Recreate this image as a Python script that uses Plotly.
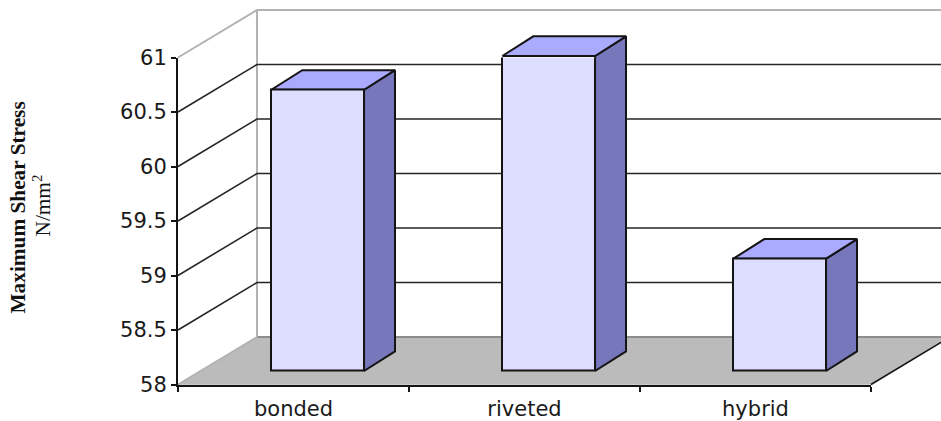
import plotly.graph_objects as go

# Maximum shear stress per joint type
categories = ["bonded", "riveted", "hybrid"]
stress_values = [60.58, 60.89, 59.03]
stress_ticks = [58, 58.5, 59, 59.5, 60, 60.5, 61]
stress_tick_labels = ["58", "58.5", "59", "59.5", "60", "60.5", "61"]

WIDTH, HEIGHT = 941, 421

# Pseudo-3D projection, in axis units: a category step in x and a stress unit in y
WALL_DX, WALL_DY = 0.342, 0.436
BAR_DX, BAR_DY = 0.134, 0.18
BAR_LEFT, BAR_WIDTH = -0.096, 0.4014
BAR_LIFT = 0.124

# Scene axes span the whole page and share the scale of the visible axes
PX_X0, PX_PER_CAT = 293.5, 231.0
PX_Y0, PX_PER_UNIT = 384.5, 109.0
scene_x = [(0 - PX_X0) / PX_PER_CAT, (WIDTH - PX_X0) / PX_PER_CAT]
scene_y = [58 + (PX_Y0 - HEIGHT) / PX_PER_UNIT, 58 + PX_Y0 / PX_PER_UNIT]

X_LEFT, X_RIGHT = -0.5, 2.5
Y_LOW, Y_HIGH = stress_ticks[0], stress_ticks[-1]
FAR_RIGHT = scene_x[1] + 0.1

INK = "#141414"
WALL_EDGE = "#b2b2b2"
FLOOR = "#bbbbbb"
FLOOR_EDGE = "#8c8c8c"
BAR_FRONT = "#ddddff"
BAR_TOP = "#aaaaff"
BAR_SIDE = "#7777bb"

fig = go.Figure()


def scene_path(xs, ys, color, width=1.5, fill=None):
    fig.add_trace(go.Scatter(
        x=xs, y=ys, mode="lines", xaxis="x", yaxis="y",
        line=dict(color=color, width=width),
        fill="toself" if fill else None,
        fillcolor=fill, hoverinfo="skip", showlegend=False,
    ))


# Floor of the box
scene_path(
    [X_LEFT, X_RIGHT, X_RIGHT + WALL_DX, FAR_RIGHT, X_LEFT + WALL_DX, X_LEFT],
    [Y_LOW, Y_LOW, Y_LOW + WALL_DY, Y_LOW + WALL_DY, Y_LOW + WALL_DY, Y_LOW],
    FLOOR, width=0.5, fill=FLOOR,
)
scene_path([X_LEFT + WALL_DX, FAR_RIGHT], [Y_LOW + WALL_DY] * 2, FLOOR_EDGE, 2)
scene_path([X_LEFT, X_LEFT + WALL_DX], [Y_LOW, Y_LOW + WALL_DY], WALL_EDGE, 1.8)
scene_path([X_RIGHT, X_RIGHT + WALL_DX], [Y_LOW, Y_LOW + WALL_DY], INK, 1.6)

# Back wall outline
scene_path(
    [X_LEFT, X_LEFT + WALL_DX, X_LEFT + WALL_DX],
    [Y_HIGH, Y_HIGH + WALL_DY, Y_LOW + WALL_DY],
    WALL_EDGE, 2,
)
scene_path([X_LEFT + WALL_DX, FAR_RIGHT], [Y_HIGH + WALL_DY] * 2, WALL_EDGE, 2)

# Gridlines climbing the side wall and running along the back wall
for tick in stress_ticks[1:-1]:
    scene_path(
        [X_LEFT, X_LEFT + WALL_DX, FAR_RIGHT],
        [tick, tick + WALL_DY, tick + WALL_DY],
        "#262626", 1.6,
    )

# Top and side faces of each column
for i, value in enumerate(stress_values):
    left = i + BAR_LEFT
    right = left + BAR_WIDTH
    low = Y_LOW + BAR_LIFT
    top = value + BAR_LIFT
    scene_path(
        [right, right + BAR_DX, right + BAR_DX, right, right],
        [low, low + BAR_DY, top + BAR_DY, top, low],
        INK, 2, fill=BAR_SIDE,
    )
    scene_path(
        [left, left + BAR_DX, right + BAR_DX, right, left],
        [top, top + BAR_DY, top + BAR_DY, top, top],
        INK, 2, fill=BAR_TOP,
    )

# Front faces on the visible axes
fig.add_trace(go.Bar(
    x=categories,
    y=[v - Y_LOW for v in stress_values],
    base=[Y_LOW + BAR_LIFT] * len(categories),
    offset=BAR_LEFT,
    width=BAR_WIDTH,
    xaxis="x2", yaxis="y2",
    cliponaxis=False,
    marker=dict(color=BAR_FRONT, line=dict(color=INK, width=2)),
    hoverinfo="skip", showlegend=False,
))

tick_font = dict(family="DejaVu Sans", size=21, color="#1a1a1a")
title_font = dict(family="Liberation Serif", size=21.3, color="#111111")

fig.update_layout(
    width=WIDTH, height=HEIGHT,
    margin=dict(l=0, r=0, t=0, b=0),
    paper_bgcolor="white", plot_bgcolor="rgba(0,0,0,0)",
    bargap=0,
    xaxis=dict(domain=[0, 1], range=scene_x, visible=False, fixedrange=True, automargin=False),
    yaxis=dict(domain=[0, 1], range=scene_y, visible=False, fixedrange=True, automargin=False),
    xaxis2=dict(
        domain=[(PX_X0 + PX_PER_CAT * X_LEFT) / WIDTH, (PX_X0 + PX_PER_CAT * X_RIGHT) / WIDTH],
        anchor="y2", type="category", categoryorder="array", categoryarray=categories,
        range=[X_LEFT, X_RIGHT], tickson="boundaries", ticks="outside", ticklen=5,
        tickwidth=1.6, tickcolor=INK, showline=True, linecolor=INK, linewidth=2,
        showgrid=False, zeroline=False, tickfont=tick_font, fixedrange=True, automargin=False,
        ticklabelstandoff=4,
    ),
    yaxis2=dict(
        domain=[1 - (PX_Y0) / HEIGHT, 1 - (PX_Y0 - PX_PER_UNIT * (Y_HIGH - Y_LOW)) / HEIGHT],
        anchor="x2", range=[Y_LOW, Y_HIGH], tickvals=stress_ticks, ticktext=stress_tick_labels,
        ticks="outside", ticklen=5, tickwidth=1.6, tickcolor=INK, showline=True,
        linecolor=INK, linewidth=2, showgrid=False, zeroline=False,
        tickfont=tick_font, fixedrange=True, automargin=False,
    ),
    annotations=[
        dict(text="<b>Maximum Shear Stress</b>", x=17.5 / WIDTH, y=1 - 208 / HEIGHT,
             xref="paper", yref="paper", xanchor="center", yanchor="middle",
             textangle=-90, showarrow=False, font=title_font),
        dict(text="N/mm<sup>2</sup>", x=41.5 / WIDTH, y=1 - 206 / HEIGHT,
             xref="paper", yref="paper", xanchor="center", yanchor="middle",
             textangle=-90, showarrow=False, font=title_font),
    ],
)

fig.write_html("out.html", config=dict(displayModeBar=False))
